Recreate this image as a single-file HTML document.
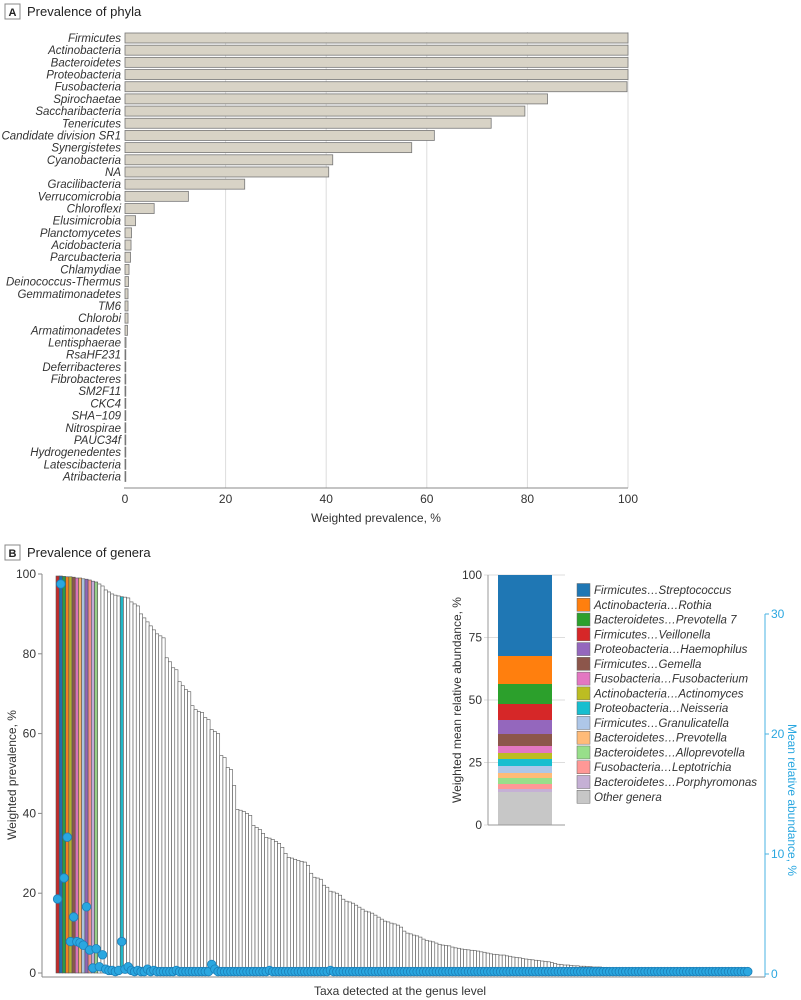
<!DOCTYPE html>
<html><head><meta charset="utf-8"><style>
body{margin:0;background:#fff;}
svg{display:block;font-family:"Liberation Sans",sans-serif;}
</style></head><body>
<svg id="c" width="801" height="1000" viewBox="0 0 801 1000">
<g>
<rect x="5" y="4" width="15" height="15" fill="#fff" stroke="#888"/>
<text x="12.5" y="16" text-anchor="middle" font-size="11" font-weight="bold" fill="#222">A</text>
<text x="27" y="16" font-size="13" fill="#222">Prevalence of phyla</text>
</g>
<g>
<rect x="5" y="545" width="15" height="15" fill="#fff" stroke="#888"/>
<text x="12.5" y="557" text-anchor="middle" font-size="11" font-weight="bold" fill="#222">B</text>
<text x="27" y="557" font-size="13" fill="#222">Prevalence of genera</text>
</g>
<g id="ga"></g>
<g id="gi"></g>
<g id="gb"></g>
</svg>
<script>
const phyla=["Firmicutes","Actinobacteria","Bacteroidetes","Proteobacteria","Fusobacteria","Spirochaetae","Saccharibacteria","Tenericutes","Candidate division SR1","Synergistetes","Cyanobacteria","NA","Gracilibacteria","Verrucomicrobia","Chloroflexi","Elusimicrobia","Planctomycetes","Acidobacteria","Parcubacteria","Chlamydiae","Deinococcus-Thermus","Gemmatimonadetes","TM6","Chlorobi","Armatimonadetes","Lentisphaerae","RsaHF231","Deferribacteres","Fibrobacteres","SM2F11","CKC4","SHA−109","Nitrospirae","PAUC34f","Hydrogenedentes","Latescibacteria","Atribacteria"];
const phylaPrev=[100,100,100,100,99.8,84,79.5,72.8,61.5,57,41.3,40.5,23.8,12.6,5.8,2.1,1.3,1.2,1.1,0.8,0.7,0.6,0.6,0.6,0.5,0.2,0.15,0.15,0.15,0.12,0.12,0.12,0.1,0.1,0.1,0.1,0.1];
const phylaTicks=[0,20,40,60,80,100];

const genusPrev=[99.5,99.5,99.4,99.3,99.3,99.2,99,99,98.8,98.7,
98.5,98.2,98,97.5,97,96,95.5,95,94.7,94.5,
94.3,94.2,94,93,92.5,92,90,89,88,87,
86,85,84.5,84,79,78,76.5,76,73,72,
71,70.5,67,66,65.5,65.3,64,63.5,61,60.5,
60,54.5,54,51.5,51,47,41,40.8,40.5,40,
39.5,37,36.5,36,35,34,33.8,33.5,33,32.5,
31.5,30,29,28.8,28.5,28.2,28,27.8,27,25,
24,23.8,23.5,22,21.5,20.5,20.3,20,19.5,18.5,
18,17.8,17.5,17,16.5,16,15.5,15.3,15,14.5,
14,13.5,13,12.8,12.5,12.3,12,11.5,10.5,10,
9.8,9.5,9.3,9,8.5,8.2,8,7.8,7.5,7.2,
7,6.9,6.8,6.5,6.3,6.2,6,5.9,5.8,5.7,
5.6,5.5,5.3,5.2,5,4.8,4.7,4.6,4.5,4.5,
4.3,4.2,4,3.9,3.8,3.6,3.5,3.4,3.3,3.2,
3.1,3,2.9,2.8,2.6,2.4,2.2,2.1,2,2,
1.9,1.8,1.8,1.7,1.7,1.6,1.6,1.5,1.5,1.5,
1.4,1.4,1.3,1.3,1.2,1.2,1.1,1.1,1,1,
1,0.9,0.9,0.9,0.8,0.8,0.8,0.7,0.7,0.7,
0.6,0.6,0.6,0.6,0.5,0.5,0.5,0.5,0.5,0.4,
0.4,0.4,0.4,0.3,0.3,0.3,0.3,0.3,0.2,0.2,
0.2,0.2,0.2,0.2,0.1,0.1];
const genusAbund=[6.25,32.5,8,11.4,2.7,4.75,2.7,2.6,2.4,5.6,
2,0.5,2.1,0.6,1.6,0.4,0.3,0.3,0.2,0.3,
2.7,0.4,0.6,0.3,0.2,0.3,0.2,0.2,0.4,0.2,
0.3,0.2,0.2,0.2,0.2,0.2,0.2,0.3,0.2,0.2,
0.2,0.2,0.2,0.2,0.2,0.2,0.2,0.2,0.8,0.4,
0.2,0.2,0.2,0.2,0.2,0.2,0.2,0.2,0.2,0.2,
0.2,0.2,0.2,0.2,0.2,0.2,0.3,0.2,0.2,0.2,
0.2,0.2,0.2,0.2,0.2,0.2,0.2,0.2,0.2,0.2,
0.2,0.2,0.2,0.2,0.2,0.3,0.2,0.2,0.2,0.2,
0.2,0.2,0.2,0.2,0.2,0.2,0.2,0.2,0.2,0.2,
0.2,0.2,0.2,0.2,0.2,0.2,0.2,0.2,0.2,0.2,
0.2,0.2,0.2,0.2,0.2,0.2,0.2,0.2,0.2,0.2,
0.2,0.2,0.2,0.2,0.2,0.2,0.2,0.2,0.2,0.2,
0.2,0.2,0.2,0.2,0.2,0.2,0.2,0.2,0.2,0.2,
0.2,0.2,0.2,0.2,0.2,0.2,0.2,0.2,0.2,0.2,
0.2,0.2,0.2,0.2,0.2,0.2,0.2,0.2,0.2,0.2,
0.2,0.2,0.2,0.2,0.2,0.2,0.2,0.2,0.2,0.2,
0.2,0.2,0.2,0.2,0.2,0.2,0.2,0.2,0.2,0.2,
0.2,0.2,0.2,0.2,0.2,0.2,0.2,0.2,0.2,0.2,
0.2,0.2,0.2,0.2,0.2,0.2,0.2,0.2,0.2,0.2,
0.2,0.2,0.2,0.2,0.2,0.2,0.2,0.2,0.2,0.2,
0.2,0.2,0.2,0.2,0.2,0.2];
const genusColorIdx={0:"#c42a2a",1:"#1f6fb0",2:"#2a9a45",3:"#f07f22",4:"#b0b030",5:"#8c564b",6:"#d873b8",7:"#f5b26b",8:"#a9c3e0",9:"#8f65b5",10:"#f08f8a",11:"#c2a9d6",12:"#98cf8a",20:"#20b8c8"};
const leftTicks=[0,20,40,60,80,100];
const rightTicks=[0,10,20,30];

const insetNames=["Firmicutes…Streptococcus","Actinobacteria…Rothia","Bacteroidetes…Prevotella 7","Firmicutes…Veillonella","Proteobacteria…Haemophilus","Firmicutes…Gemella","Fusobacteria…Fusobacterium","Actinobacteria…Actinomyces","Proteobacteria…Neisseria","Firmicutes…Granulicatella","Bacteroidetes…Prevotella","Bacteroidetes…Alloprevotella","Fusobacteria…Leptotrichia","Bacteroidetes…Porphyromonas","Other genera"];
const insetVals=[32.4,11.2,8,6.4,5.6,4.8,2.8,2.4,2.8,2.8,2,2.4,2,1.2,13.2];
const insetColors=["#1f77b4","#ff7f0e","#2ca02c","#d62728","#9467bd","#8c564b","#e377c2","#bcbd22","#17becf","#aec7e8","#ffbb78","#98df8a","#ff9896","#c5b0d5","#c7c7c7"];
const insetTicks=[0,25,50,75,100];

const NS="http://www.w3.org/2000/svg";
function mk(parent,tag,attrs,text){const e=document.createElementNS(NS,tag);for(const k in attrs)e.setAttribute(k,attrs[k]);if(text!==undefined)e.textContent=text;parent.appendChild(e);return e;}

// Panel A
const ga=document.getElementById('ga');
const ax=v=>125+v*5.03;
const ay=i=>38+i*12.18;
phylaTicks.forEach(t=>{
  if(t>0){const g=mk(ga,'line',{x1:ax(t),x2:ax(t),y1:32,y2:488,stroke:'#ddd','stroke-width':1});
  
  }
  const tl=mk(ga,'text',{x:ax(t),y:503,'text-anchor':'middle','font-size':12,fill:'#333'},t);
  
  
});
phyla.forEach((p,i)=>{
  const lb=mk(ga,'text',{x:121,y:ay(i)+4,'text-anchor':'end','font-size':11.5,'font-style':'italic',fill:'#333'},p);
  
  
  const r=mk(ga,'rect',{x:ax(0),y:ay(i)-5,width:Math.max(ax(phylaPrev[i])-ax(0),0.8),height:10,fill:'#d8d3c6',stroke:'#777','stroke-width':0.8});
  
  
});
const axl=mk(ga,'line',{x1:124,x2:628,y1:488,y2:488,stroke:'#888','stroke-width':1});


const axt=mk(ga,'text',{x:376,y:522,'text-anchor':'middle','font-size':12,fill:'#333'},'Weighted prevalence, %');



// Inset
const gi=document.getElementById('gi');
const iy=v=>825-v*2.5;
insetTicks.forEach(t=>{
  const g=mk(gi,'line',{x1:484,x2:565,y1:iy(t),y2:iy(t),stroke:'#ddd'});
  
  
  const tl=mk(gi,'text',{x:482,y:iy(t)+4,'text-anchor':'end','font-size':12,fill:'#333'},t);
  
  
});
let cum=0;
insetVals.slice().reverse().forEach((v,k)=>{
  const idx=insetVals.length-1-k;
  const r=mk(gi,'rect',{x:498,y:iy(cum+v),width:54,height:iy(cum)-iy(cum+v),fill:insetColors[idx]});
  
  
  cum+=v;
});
const iax=mk(gi,'line',{x1:488,x2:488,y1:iy(100),y2:iy(0),stroke:'#999'});


const ixx=mk(gi,'line',{x1:488,x2:565,y1:iy(0),y2:iy(0),stroke:'#999'});


const iyt=mk(gi,'text',{x:0,y:0,transform:'translate(461,700) rotate(-90)','text-anchor':'middle','font-size':12,fill:'#333'},'Weighted mean relative abundance, %');


insetNames.forEach((n,i)=>{
  const y=590+i*14.77;
  const sw=mk(gi,'rect',{x:577,y:y-6.5,width:13,height:13,fill:insetColors[i],stroke:'#666','stroke-width':0.5});
  
  
  const tx=mk(gi,'text',{x:594,y:y+4,'font-size':11.5,'font-style':'italic',fill:'#333'},n);
  
  
});

// Panel B
const gb=document.getElementById('gb');
const bx=i=>56+i*3.21;
const by=v=>973-v*3.99;
const ry=v=>974-v*12;
leftTicks.forEach(t=>{
  const tk=mk(gb,'line',{x1:38,x2:42,y1:by(t),y2:by(t),stroke:'#888'});
  
  
  const tl=mk(gb,'text',{x:36,y:by(t)+4,'text-anchor':'end','font-size':12,fill:'#333'},t);
  
  
});
const yax=mk(gb,'line',{x1:42,x2:42,y1:by(100),y2:977,stroke:'#888'});


const xax=mk(gb,'line',{x1:42,x2:765,y1:977,y2:977,stroke:'#888'});


genusPrev.forEach((v,i)=>{
  const col=genusColorIdx[i]||'#fff';
  const r=mk(gb,'rect',{x:bx(i),y:by(v),width:3.21,height:by(0)-by(v),fill:col,stroke:'#555','stroke-width':0.6});
  
  
});
genusAbund.forEach((v,i)=>{
  const c=mk(gb,'circle',{cx:bx(i)+1.6,cy:ry(v),r:4.3,fill:'#2aa7e0',stroke:'#1b7fb8','stroke-width':0.8});
  
  
});
const rax=mk(gb,'line',{x1:765,x2:765,y1:ry(30),y2:ry(0)+3,stroke:'#4ab3e3'});


rightTicks.forEach(t=>{
  const tk=mk(gb,'line',{x1:765,x2:769,y1:ry(t),y2:ry(t),stroke:'#4ab3e3'});
  
  
  const tl=mk(gb,'text',{x:771,y:ry(t)+4,'font-size':12,fill:'#2aa7e0'},t);
  
  
});
const lyt=mk(gb,'text',{x:0,y:0,transform:'translate(16,775) rotate(-90)','text-anchor':'middle','font-size':12,fill:'#333'},'Weighted prevalence, %');


const ryt=mk(gb,'text',{x:0,y:0,transform:'translate(788,800) rotate(90)','text-anchor':'middle','font-size':12,fill:'#2aa7e0'},'Mean relative abundance, %');


const xt=mk(gb,'text',{x:400,y:995,'text-anchor':'middle','font-size':12,fill:'#333'},'Taxa detected at the genus level');


</script>
</body></html>
